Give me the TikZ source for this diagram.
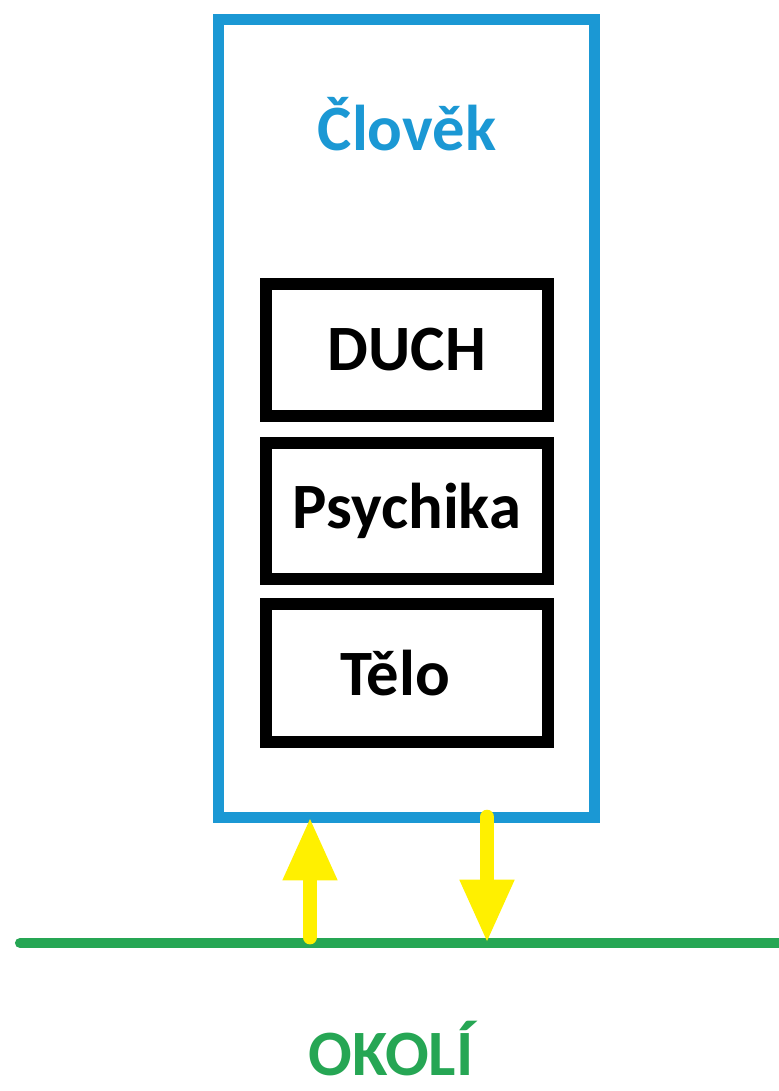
\documentclass[tikz,border=0pt]{standalone}
\usepackage{fontspec}
\setmainfont{Carlito}
\usepackage{tikz}
\usetikzlibrary{arrows.meta}

\definecolor{clovekblue}{RGB}{27,152,212}
\definecolor{okoligreen}{RGB}{38,166,84}
\definecolor{sipkayellow}{RGB}{255,240,0}

\begin{document}
\begin{tikzpicture}[x=0.025cm, y=-0.025cm]
\def \velke {\fontsize{46}{50}\selectfont\bfseries}
\tikzset{
  cast/.style={draw, line width=8.5pt, minimum width=7.05cm, inner sep=0pt, font=\velke},
  tok/.style={sipkayellow, line width=10.5pt, line cap=round, -{Triangle[width=36pt,length=45pt]}}
}
\useasboundingbox (0,0) rectangle (778,1091);

\node[draw=clovekblue, line width=7.8pt, outer sep=0pt, minimum width=9.375cm, minimum height=19.925cm] at (406.5,418.5) (clovek) {};
\node[text=clovekblue, font=\velke] at (407,124) (nazev) {Člověk};

\node[cast, minimum height=3.3cm] at (407,350) (duch) {DUCH};
\node[cast, minimum height=3.4cm] at (407,511) (psychika) {Psychika};
\node[cast, minimum height=3.45cm] at (407,673) (telo) {Tělo\kern0.6cm};

\coordinate (zleva) at (20,943);
\coordinate (zprava) at (790,943);
\draw[okoligreen, line width=7.2pt, line cap=round] (zleva) -- (zprava);

\coordinate (vstup) at (310,937);
\coordinate (vystup) at (487,943);
\draw[tok] (vstup) -- (vstup |- clovek.south);
\draw[tok] (vystup |- clovek.south) -- (vystup);

\node[text=okoligreen, font=\velke, inner sep=0pt] at (391,1049) (okoli) {OKOLÍ};

\end{tikzpicture}
\end{document}
